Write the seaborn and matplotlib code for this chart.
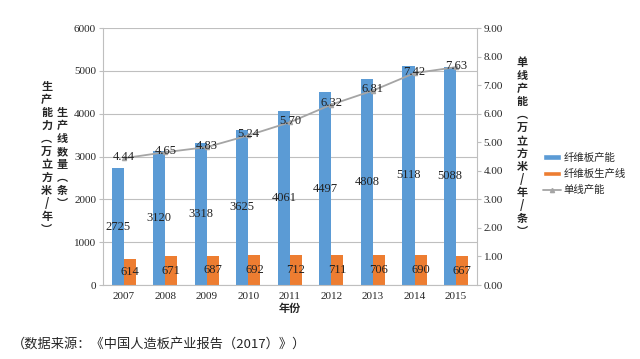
import numpy as np
import pandas as pd
import seaborn as sns
import matplotlib
matplotlib.use("Agg")
import matplotlib.pyplot as plt
from matplotlib.patches import Patch
from matplotlib.lines import Line2D
from matplotlib.ticker import FormatStrFormatter

years = ["2007", "2008", "2009", "2010", "2011", "2012", "2013", "2014", "2015"]
capacity = [2725, 3120, 3318, 3625, 4061, 4497, 4808, 5118, 5088]
lines = [614, 671, 687, 692, 712, 711, 706, 690, 667]
per_line = [4.44, 4.65, 4.83, 5.24, 5.70, 6.32, 6.81, 7.42, 7.63]
series_names = ["纤维板产能", "纤维板生产线", "单线产能"]

blue = "#5B9BD5"
orange = "#ED7D31"
gray = "#A5A5A5"
cjk = ["Noto Sans CJK SC", "DejaVu Sans"]
num_font = "Liberation Serif"

sns.set_style("white")
plt.rcParams['font.family'] = cjk

df = pd.DataFrame({
    "year": years * 2,
    "value": capacity + lines,
    "series": [series_names[0]] * len(years) + [series_names[1]] * len(years),
})

fig = plt.figure(figsize=(6.4, 3.59), dpi=100)
ax = fig.add_axes([0.161, 0.206, 0.584, 0.716])
sns.barplot(data=df, x="year", y="value", hue="series", saturation=1,
            palette=[blue, orange], width=0.58, linewidth=0, ax=ax, legend=False)
ax.set_ylim(0, 6000)
ax.set_yticks(range(0, 6001, 1000))
ax.yaxis.grid(True, color="#BFBFBF", linewidth=0.8)
ax.set_axisbelow(True)
ax.set_xlabel("年份", fontsize=8, fontweight="bold", labelpad=1)
ax.set_ylabel("")
for s in ["top", "right"]:
    ax.spines[s].set_visible(False)
ax.spines["left"].set_color("#BFBFBF")
ax.spines["bottom"].set_color("#BFBFBF")
ax.tick_params(axis="both", length=3, color="#BFBFBF", labelsize=8, pad=2)
for lab in ax.get_xticklabels() + ax.get_yticklabels():
    lab.set_fontfamily(num_font)

for cont, vals in zip(ax.containers, [capacity, lines]):
    for rect, v in zip(cont, vals):
        ax.text(rect.get_x() + rect.get_width() / 2, v / 2, str(v),
                ha="center", va="center", fontsize=9, family=num_font, color="#222222")

ax2 = ax.twinx()
sns.pointplot(x=years, y=per_line, color=gray, markers="^", linewidth=1.3,
              markersize=3, ax=ax2)
ax2.set_ylim(0, 9)
ax2.set_yticks(np.arange(0, 9.01, 1))
ax2.yaxis.set_major_formatter(FormatStrFormatter("%.2f"))
for s in ["top", "left", "bottom"]:
    ax2.spines[s].set_visible(False)
ax2.spines["right"].set_color("#BFBFBF")
ax2.tick_params(axis="y", length=3, color="#BFBFBF", labelsize=8, pad=2)
for lab in ax2.get_yticklabels():
    lab.set_fontfamily(num_font)
for i, v in enumerate(per_line):
    ax2.text(i, v + 0.05, "%.2f" % v, ha="center", va="center",
             fontsize=9, family=num_font, color="#222222")

# vertical axis titles
lab1 = "生产能力︵万立方米/年︶"
lab2 = "生产线数量︵条︶"
lab3 = "单线产能︵万立方米/年/条︶"
fig.text(0.073, 0.56, "\n".join(lab1), ha="center", va="center", fontsize=8,
         fontweight="bold", linespacing=1.0)
fig.text(0.097, 0.56, "\n".join(lab2), ha="center", va="center", fontsize=8,
         fontweight="bold", linespacing=1.0)
fig.text(0.816, 0.59, "\n".join(lab3), ha="center", va="center", fontsize=8,
         fontweight="bold", linespacing=1.0)

handles = [Patch(facecolor=blue), Patch(facecolor=orange),
           Line2D([0], [0], color=gray, marker="^", markersize=3, linewidth=1.3)]
fig.legend(handles, series_names, loc="center left", bbox_to_anchor=(0.848, 0.515),
           frameon=False, fontsize=7.5, handlelength=1.8, handleheight=0.5,
           handletextpad=0.2, labelspacing=0.6, borderpad=0, borderaxespad=0)

fig.text(0.018, 0.04, "（数据来源：《中国人造板产业报告（2017）》）", fontsize=9.5,
         ha="left", va="center")

fig.savefig("out.png", dpi=100)
